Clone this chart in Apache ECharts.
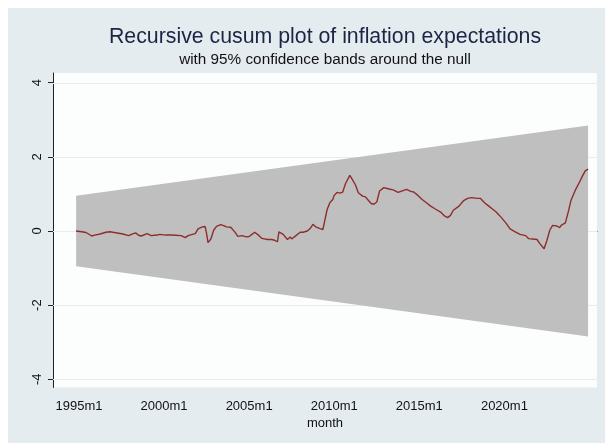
<!DOCTYPE html>
<html>
<head>
<meta charset="utf-8">
<script src="https://cdn.jsdelivr.net/npm/echarts@6/dist/echarts.min.js"></script>
<style>
  html, body { margin: 0; padding: 0; background: #ffffff; }
  #chart { position: absolute; left: 8px; top: 8px; width: 597px; height: 435px; }
</style>
</head>
<body>
<div id="chart"></div>
<script>
// Monthly time index (0 = 1960m1), recursive CUSUM statistic
const months = [418, 422, 425, 426, 429, 431, 435, 439, 442, 444, 448, 451, 455, 457, 460, 462, 464, 468, 471, 475,
  477, 481, 485, 488, 492, 495, 497, 500, 502, 504, 507, 509, 510, 511, 513, 515, 517, 520, 522, 524,
  527, 528, 530, 532, 535, 538, 540, 542, 544, 547, 549, 553, 556, 558, 560, 561, 564, 567, 569, 570,
  573, 576, 578, 581, 583, 585, 587, 590, 592, 593, 595, 597, 599, 600, 602, 604, 606, 608, 611, 612,
  615, 617, 620, 622, 624, 626, 628, 630, 632, 635, 638, 642, 645, 647, 648, 651, 654, 656, 659, 662,
  665, 668, 671, 675, 678, 680, 682, 684, 688, 691, 694, 697, 698, 701, 703, 706, 709, 712, 714, 717,
  721, 724, 727, 731, 735, 737, 740, 743, 745, 748, 750, 752, 754, 757, 759, 760, 763, 765, 767, 770,
  773, 775, 777, 779];
const cusum = [0.00, -0.02, -0.04, -0.09, -0.135, -0.11, -0.08, -0.035, -0.02, -0.035, -0.06, -0.08, -0.125, -0.09, -0.05, -0.115, -0.135, -0.07, -0.125, -0.11,
  -0.09, -0.11, -0.11, -0.115, -0.125, -0.18, -0.125, -0.09, -0.07, 0.055, 0.11, 0.12, -0.07, -0.315, -0.215, 0.02, 0.125, 0.17, 0.145, 0.11,
  0.10, 0.065, -0.03, -0.145, -0.125, -0.16, -0.15, -0.09, -0.035, -0.125, -0.2, -0.23, -0.23, -0.25, -0.29, -0.025, -0.09, -0.23, -0.16, -0.215,
  -0.125, -0.035, -0.035, 0.0, 0.065, 0.18, 0.11, 0.065, 0.04, 0.22, 0.58, 0.77, 0.85, 0.96, 1.04, 1.02, 1.05, 1.28, 1.5, 1.44,
  1.24, 1.03, 0.94, 0.92, 0.83, 0.74, 0.72, 0.78, 1.08, 1.17, 1.14, 1.1, 1.04, 1.07, 1.05, 1.12, 1.07, 1.05, 0.96, 0.85,
  0.76, 0.67, 0.6, 0.51, 0.4, 0.36, 0.42, 0.56, 0.67, 0.81, 0.88, 0.9, 0.94, 0.88, 0.88, 0.76, 0.67, 0.58, 0.52, 0.40,
  0.22, 0.055, -0.01, -0.09, -0.125, -0.205, -0.215, -0.23, -0.34, -0.48, -0.25, 0.02, 0.15, 0.135, 0.09, 0.15, 0.22, 0.51, 0.83, 1.1,
  1.32, 1.48, 1.62, 1.67];

// 95% confidence band around the null (end points of the linear bounds)
const bandMonths = [418, 779];
const bandUpper = [0.948, 2.844];
const bandLower = [-0.948, -2.844];

// Axis ticks
const yTickValues = [-4, -2, 0, 2, 4];
const xTickMonths = [420, 480, 540, 600, 660, 720];
const xTickLabels = ['1995m1', '2000m1', '2005m1', '2010m1', '2015m1', '2020m1'];

const titleText = 'Recursive cusum plot of inflation expectations';
const subtitleText = 'with 95% confidence bands around the null';
const xName = 'month';

const FONT = '"Liberation Sans", Arial, Helvetica, sans-serif';
const chart = echarts.init(document.getElementById('chart'), null, { renderer: 'canvas' });

const bandData = bandMonths.map((m, i) => [m, bandLower[i], bandUpper[i]]);

chart.setOption({
  backgroundColor: '#e5ecf0',
  animation: false,
  graphic: [
    { type: 'text', x: 317, y: 29, z: 10,
      style: { text: titleText, font: '21.3px ' + FONT, fill: '#1b2544', align: 'center', verticalAlign: 'middle' } },
    { type: 'text', x: 317, y: 52, z: 10,
      style: { text: subtitleText, font: '15.3px ' + FONT, fill: '#111111', align: 'center', verticalAlign: 'middle' } }
  ],
  grid: { left: 45, top: 65, right: 8, bottom: 55.5, show: true, backgroundColor: '#fcfdfd', borderWidth: 0 },
  xAxis: {
    type: 'value', min: 401.7, max: 785.3,
    name: xName, nameLocation: 'middle', nameGap: 28,
    nameTextStyle: { fontFamily: FONT, fontSize: 13, color: '#111111' },
    axisLine: { show: true, lineStyle: { color: '#222222', width: 1 } },
    axisTick: { show: true, length: 7, customValues: xTickMonths, lineStyle: { color: '#222222' } },
    axisLabel: {
      customValues: xTickMonths, margin: 12, fontFamily: FONT, fontSize: 13, color: '#111111',
      formatter: v => xTickLabels[xTickMonths.indexOf(v)] || ''
    },
    splitLine: { show: false }
  },
  yAxis: {
    type: 'value', min: -4.22, max: 4.26,
    axisLine: { show: true, lineStyle: { color: '#222222', width: 1 } },
    axisTick: { show: true, length: 5, customValues: yTickValues, lineStyle: { color: '#222222' } },
    axisLabel: { customValues: yTickValues, rotate: 90, margin: 9, fontFamily: FONT, fontSize: 13, color: '#111111' },
    splitLine: { show: false }
  },
  series: [
    {
      // horizontal grid lines at the labelled y values, drawn beneath the band
      type: 'custom', z: 1, silent: true,
      data: yTickValues.map(v => [0, v]),
      renderItem: (params, api) => {
        const y = api.coord([0, api.value(1)])[1];
        const cs = params.coordSys;
        return {
          type: 'line',
          shape: { x1: cs.x, y1: Math.round(y) + 0.5, x2: cs.x + cs.width, y2: Math.round(y) + 0.5 },
          style: { stroke: '#e8ecee', lineWidth: 1 }
        };
      }
    },
    {
      type: 'custom', z: 2, silent: true,
      data: bandData,
      encode: { x: 0, y: [1, 2] },
      renderItem: (params, api) => {
        if (params.dataIndex !== 0) return null;
        const top = bandData.map(d => api.coord([d[0], d[2]]));
        const bottom = bandData.slice().reverse().map(d => api.coord([d[0], d[1]]));
        return { type: 'polygon', shape: { points: top.concat(bottom) }, style: { fill: '#bfbfbf' } };
      }
    },
    {
      type: 'line', z: 3, showSymbol: false, silent: true,
      data: months.map((m, i) => [m, cusum[i]]),
      lineStyle: { color: '#8e2d2d', width: 1.4 }
    }
  ]
});
</script>
</body>
</html>
